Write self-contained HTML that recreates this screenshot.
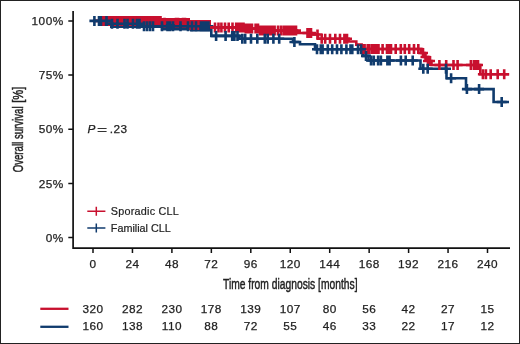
<!DOCTYPE html>
<html><head><meta charset="utf-8"><style>
html,body{margin:0;padding:0;background:#fff;}
svg{display:block;will-change:transform;}
text{font-family:"Liberation Sans",sans-serif;fill:#222;}
.t{font-size:11.8px;letter-spacing:0.45px;stroke:#222;stroke-width:0.25px;}
.lg{font-size:10.8px;fill:#222;stroke:#222;stroke-width:0.2px;}
.ttl{font-size:14.5px;stroke:#222;stroke-width:0.45px;}
</style></head><body>
<svg width="520" height="344" viewBox="0 0 520 344">
<rect x="0.5" y="0.5" width="519" height="343" fill="#fff" stroke="#222" stroke-width="1"/>
<path d="M73.1,11V248.2H510" fill="none" stroke="#111" stroke-width="1.7"/>
<path d="M68.3,20.90H73.1M68.3,75.07H73.1M68.3,129.25H73.1M68.3,183.42H73.1M68.3,237.60H73.1M93.00,248.2V253M132.45,248.2V253M171.90,248.2V253M211.35,248.2V253M250.80,248.2V253M290.25,248.2V253M329.70,248.2V253M369.15,248.2V253M408.60,248.2V253M448.05,248.2V253M487.50,248.2V253" fill="none" stroke="#111" stroke-width="1.5"/>
<text x="63.6" y="25.10" text-anchor="end" class="t">100%</text>
<text x="63.6" y="79.27" text-anchor="end" class="t">75%</text>
<text x="63.6" y="133.45" text-anchor="end" class="t">50%</text>
<text x="63.6" y="187.62" text-anchor="end" class="t">25%</text>
<text x="63.6" y="241.80" text-anchor="end" class="t">0%</text>
<text x="93.00" y="268.2" text-anchor="middle" class="t">0</text>
<text x="132.45" y="268.2" text-anchor="middle" class="t">24</text>
<text x="171.90" y="268.2" text-anchor="middle" class="t">48</text>
<text x="211.35" y="268.2" text-anchor="middle" class="t">72</text>
<text x="250.80" y="268.2" text-anchor="middle" class="t">96</text>
<text x="290.25" y="268.2" text-anchor="middle" class="t">120</text>
<text x="329.70" y="268.2" text-anchor="middle" class="t">144</text>
<text x="369.15" y="268.2" text-anchor="middle" class="t">168</text>
<text x="408.60" y="268.2" text-anchor="middle" class="t">192</text>
<text x="448.05" y="268.2" text-anchor="middle" class="t">216</text>
<text x="487.50" y="268.2" text-anchor="middle" class="t">240</text>
<text class="ttl" transform="translate(290.25,288.6) scale(0.71,1)" text-anchor="middle">Time from diagnosis [months]</text>
<text class="ttl" transform="translate(22.5,172.3) rotate(-90) scale(0.665,1)">Overall survival</text>
<text class="ttl" transform="translate(22.5,102.8) rotate(-90) scale(0.77,1)">[%]</text>
<text x="87.6" y="132.9" class="t" font-style="italic">P</text>
<path d="M97.6,128.5H106.6M97.6,131.5H106.6" stroke="#333" stroke-width="1" fill="none"/>
<text x="109.8" y="132.9" class="t">.23</text>
<path d="M87.3,211.2H105.4M96.3,206.7V215.7" stroke="#c8102e" stroke-width="1.5" fill="none"/>
<path d="M87.3,227.9H105.4M96.3,223.4V232.4" stroke="#103b6d" stroke-width="1.5" fill="none"/>
<text x="110.8" y="215" class="lg" letter-spacing="0.24">Sporadic CLL</text>
<text x="110.8" y="231.7" class="lg">Familial CLL</text>
<path d="M93,20.9H109V23.8H140V26.3H211.3V35.9H239V38.8H293V42H300V44.3H315V49.2H363V55.9H368.5V60.5H420.5V68.8H446.5V78.3H466V89.1H493.6V102H509" stroke="#103b6d" stroke-width="2.6" fill="none"/>
<path d="M93,20.9H160.8V22.8H190V25H205V27.4H245V28.6H260V30.6H297V33H311.5V34.5H318V38.8H348.8V41.5H356.3V44.6H361.6V49H421V53H424.5V57H428V61H431.5V65H480.3V74.3H509" stroke="#c8102e" stroke-width="2.6" fill="none"/>
<path d="M100,16H160.8V21H100ZM160.8,17.9H190V23H160.8ZM190,20H211V25H190Z" fill="#c8102e"/>
<path d="M100,21H110V26H100ZM110,21H160.8V28H110ZM160.8,23H190V30.5H160.8ZM190,25H211V31.5H190Z" fill="#103b6d"/>
<path d="M98.5,20.9H108.5M103.5,15.899999999999999V25.9M104,20.9H114M109,15.899999999999999V25.9M110,20.9H120M115,15.899999999999999V25.9M114.5,20.9H124.5M119.5,15.899999999999999V25.9M117.5,20.9H127.5M122.5,15.899999999999999V25.9M125,20.9H135M130,15.899999999999999V25.9M127,20.9H137M132,15.899999999999999V25.9M130,20.9H140M135,15.899999999999999V25.9M136.5,20.9H146.5M141.5,15.899999999999999V25.9M141,20.9H151M146,15.899999999999999V25.9M144,20.9H154M149,15.899999999999999V25.9M147,20.9H157M152,15.899999999999999V25.9M150,20.9H160M155,15.899999999999999V25.9M152.5,20.9H162.5M157.5,15.899999999999999V25.9M153.5,20.9H163.5M158.5,15.899999999999999V25.9M155.5,20.9H165.5M160.5,15.899999999999999V25.9M159.5,22.8H169.5M164.5,17.8V27.8M171,22.8H181M176,17.8V27.8M173,22.8H183M178,17.8V27.8M178,22.8H188M183,17.8V27.8M180,22.8H190M185,17.8V27.8M185,25H195M190,20V30M189,25H199M194,20V30M193,25H203M198,20V30" stroke="#c8102e" stroke-width="2.6" fill="none"/>
<path d="M89.4,20.9H99.4M94.4,15.899999999999999V25.9M94,20.9H104M99,15.899999999999999V25.9M95.8,20.9H105.8M100.8,15.899999999999999V25.9M101.5,20.9H111.5M106.5,15.899999999999999V25.9M107,23.8H117M112,18.8V28.8M112.5,23.8H122.5M117.5,18.8V28.8M119.5,23.8H129.5M124.5,18.8V28.8M122.5,23.8H132.5M127.5,18.8V28.8M128,23.8H138M133,18.8V28.8M132,23.8H142M137,18.8V28.8M134.5,23.8H144.5M139.5,18.8V28.8M139,26.3H149M144,21.3V31.3M142,26.3H152M147,21.3V31.3M145,26.3H155M150,21.3V31.3M148,26.3H158M153,21.3V31.3M157,26.3H167M162,21.3V31.3M162.5,26.3H172.5M167.5,21.3V31.3M165,26.3H175M170,21.3V31.3M168,26.3H178M173,21.3V31.3M175.5,26.3H185.5M180.5,21.3V31.3M183,26.3H193M188,21.3V31.3M187,26.3H197M192,21.3V31.3M191,26.3H201M196,21.3V31.3M196,26.3H206M201,21.3V31.3M198.5,26.3H208.5M203.5,21.3V31.3M201,26.3H211M206,21.3V31.3M203.5,26.3H213.5M208.5,21.3V31.3" stroke="#103b6d" stroke-width="2.6" fill="none"/>
<path d="M210,27.4H220M215,22.4V32.4M213.5,27.4H223.5M218.5,22.4V32.4M216.4,27.4H226.4M221.4,22.4V32.4M220,27.4H230M225,22.4V32.4M223.7,27.4H233.7M228.7,22.4V32.4M227.5,27.4H237.5M232.5,22.4V32.4M231.2,27.4H241.2M236.2,22.4V32.4M233.5,27.4H243.5M238.5,22.4V32.4M236,27.4H246M241,22.4V32.4M238.5,27.4H248.5M243.5,22.4V32.4M240.8,28.6H250.8M245.8,23.6V33.6M243,28.6H253M248,23.6V33.6M244.8,28.6H254.8M249.8,23.6V33.6M247,28.6H257M252,23.6V33.6M250.6,28.6H260.6M255.6,23.6V33.6M253,28.6H263M258,23.6V33.6M255,30.6H265M260,25.6V35.6M257,30.6H267M262,25.6V35.6M259,30.6H269M264,25.6V35.6M261,30.6H271M266,25.6V35.6M263,30.6H273M268,25.6V35.6M265,30.6H275M270,25.6V35.6M267,30.6H277M272,25.6V35.6M269.6,30.6H279.6M274.6,25.6V35.6M273,30.6H283M278,25.6V35.6M276,30.6H286M281,25.6V35.6M278.8,30.6H288.8M283.8,25.6V35.6M281,30.6H291M286,25.6V35.6M283,30.6H293M288,25.6V35.6M285,30.6H295M290,25.6V35.6M287,30.6H297M292,25.6V35.6M289.2,30.6H299.2M294.2,25.6V35.6M291,30.6H301M296,25.6V35.6M302.5,33H312.5M307.5,28V38M304.5,33H314.5M309.5,28V38M306,33H316M311,28V38M312.5,34.5H322.5M317.5,29.5V39.5M316.7,38.8H326.7M321.7,33.8V43.8M320.2,38.8H330.2M325.2,33.8V43.8M325,38.8H335M330,33.8V43.8M330.3,38.8H340.3M335.3,33.8V43.8M335,38.8H345M340,33.8V43.8M339.4,38.8H349.4M344.4,33.8V43.8M342,38.8H352M347,33.8V43.8M357.4,49H367.4M362.4,44V54M359.6,49H369.6M364.6,44V54M362.7,49H372.7M367.7,44V54M364.2,49H374.2M369.2,44V54M367,49H377M372,44V54M369.6,49H379.6M374.6,44V54M372.2,49H382.2M377.2,44V54M373.5,49H383.5M378.5,44V54M377.6,49H387.6M382.6,44V54M382,49H392M387,44V54M384,49H394M389,44V54M386,49H396M391,44V54M390.7,49H400.7M395.7,44V54M395.8,49H405.8M400.8,44V54M399.8,49H409.8M404.8,44V54M404.2,49H414.2M409.2,44V54M409,49H419M414,44V54M413.3,49H423.3M418.3,44V54M418,53H428M423,48V58M420.5,57H430.5M425.5,52V62M423,61H433M428,56V66M425,61H435M430,56V66M434.4,65H444.4M439.4,60V70M441.2,65H451.2M446.2,60V70M448.5,65H458.5M453.5,60V70M452.6,65H462.6M457.6,60V70M465.9,65H475.9M470.9,60V70M469,65H479M474,60V70M471,65H481M476,60V70M473,65H483M478,60V70M477.9,74.3H487.9M482.9,69.3V79.3M480.9,74.3H490.9M485.9,69.3V79.3M485.7,74.3H495.7M490.7,69.3V79.3M492.7,74.3H502.7M497.7,69.3V79.3M499.2,74.3H509.2M504.2,69.3V79.3" stroke="#c8102e" stroke-width="2.6" fill="none"/>
<path d="M211.1,35.9H221.1M216.1,30.9V40.9M220.6,35.9H230.6M225.6,30.9V40.9M227.2,35.9H237.2M232.2,30.9V40.9M229.4,35.9H239.4M234.4,30.9V40.9M232.5,35.9H242.5M237.5,30.9V40.9M237.3,38.8H247.3M242.3,33.8V43.8M240.2,38.8H250.2M245.2,33.8V43.8M246,38.8H256M251,33.8V43.8M252.3,38.8H262.3M257.3,33.8V43.8M259.8,38.8H269.8M264.8,33.8V43.8M262.7,38.8H272.7M267.7,33.8V43.8M268.4,38.8H278.4M273.4,33.8V43.8M274.2,38.8H284.2M279.2,33.8V43.8M289.4,42H299.4M294.4,37V47M312,49.2H322M317,44.2V54.2M315.8,49.2H325.8M320.8,44.2V54.2M317.6,49.2H327.6M322.6,44.2V54.2M322.8,49.2H332.8M327.8,44.2V54.2M327.2,49.2H337.2M332.2,44.2V54.2M332,49.2H342M337,44.2V54.2M336.4,49.2H346.4M341.4,44.2V54.2M341.4,49.2H351.4M346.4,44.2V54.2M345.5,49.2H355.5M350.5,44.2V54.2M347.3,49.2H357.3M352.3,44.2V54.2M353,49.2H363M358,44.2V54.2M356.1,49.2H366.1M361.1,44.2V54.2M361,55.9H371M366,50.9V60.9M366,60.5H376M371,55.5V65.5M368.8,60.5H378.8M373.8,55.5V65.5M373.1,60.5H383.1M378.1,55.5V65.5M375.9,60.5H385.9M380.9,55.5V65.5M382.4,60.5H392.4M387.4,55.5V65.5M384.6,60.5H394.6M389.6,55.5V65.5M395.9,60.5H405.9M400.9,55.5V65.5M400.7,60.5H410.7M405.7,55.5V65.5M407.7,60.5H417.7M412.7,55.5V65.5M418.3,68.8H428.3M423.3,63.8V73.8M422.7,68.8H432.7M427.7,63.8V73.8M441,68.8H451M446,63.8V73.8M446.1,78.3H456.1M451.1,73.3V83.3M461.9,89.1H471.9M466.9,84.1V94.1M474.1,89.1H484.1M479.1,84.1V94.1M496.7,102H506.7M501.7,97V107" stroke="#103b6d" stroke-width="2.6" fill="none"/>
<path d="M40.3,308.8H68.5" stroke="#c8102e" stroke-width="2.3"/>
<path d="M40.3,326.8H68.5" stroke="#103b6d" stroke-width="2.3"/>
<text x="93.00" y="312.5" text-anchor="middle" class="t">320</text>
<text x="93.00" y="330.4" text-anchor="middle" class="t">160</text>
<text x="132.45" y="312.5" text-anchor="middle" class="t">282</text>
<text x="132.45" y="330.4" text-anchor="middle" class="t">138</text>
<text x="171.90" y="312.5" text-anchor="middle" class="t">230</text>
<text x="171.90" y="330.4" text-anchor="middle" class="t">110</text>
<text x="211.35" y="312.5" text-anchor="middle" class="t">178</text>
<text x="211.35" y="330.4" text-anchor="middle" class="t">88</text>
<text x="250.80" y="312.5" text-anchor="middle" class="t">139</text>
<text x="250.80" y="330.4" text-anchor="middle" class="t">72</text>
<text x="290.25" y="312.5" text-anchor="middle" class="t">107</text>
<text x="290.25" y="330.4" text-anchor="middle" class="t">55</text>
<text x="329.70" y="312.5" text-anchor="middle" class="t">80</text>
<text x="329.70" y="330.4" text-anchor="middle" class="t">46</text>
<text x="369.15" y="312.5" text-anchor="middle" class="t">56</text>
<text x="369.15" y="330.4" text-anchor="middle" class="t">33</text>
<text x="408.60" y="312.5" text-anchor="middle" class="t">42</text>
<text x="408.60" y="330.4" text-anchor="middle" class="t">22</text>
<text x="448.05" y="312.5" text-anchor="middle" class="t">27</text>
<text x="448.05" y="330.4" text-anchor="middle" class="t">17</text>
<text x="487.50" y="312.5" text-anchor="middle" class="t">15</text>
<text x="487.50" y="330.4" text-anchor="middle" class="t">12</text>
</svg>
</body></html>
